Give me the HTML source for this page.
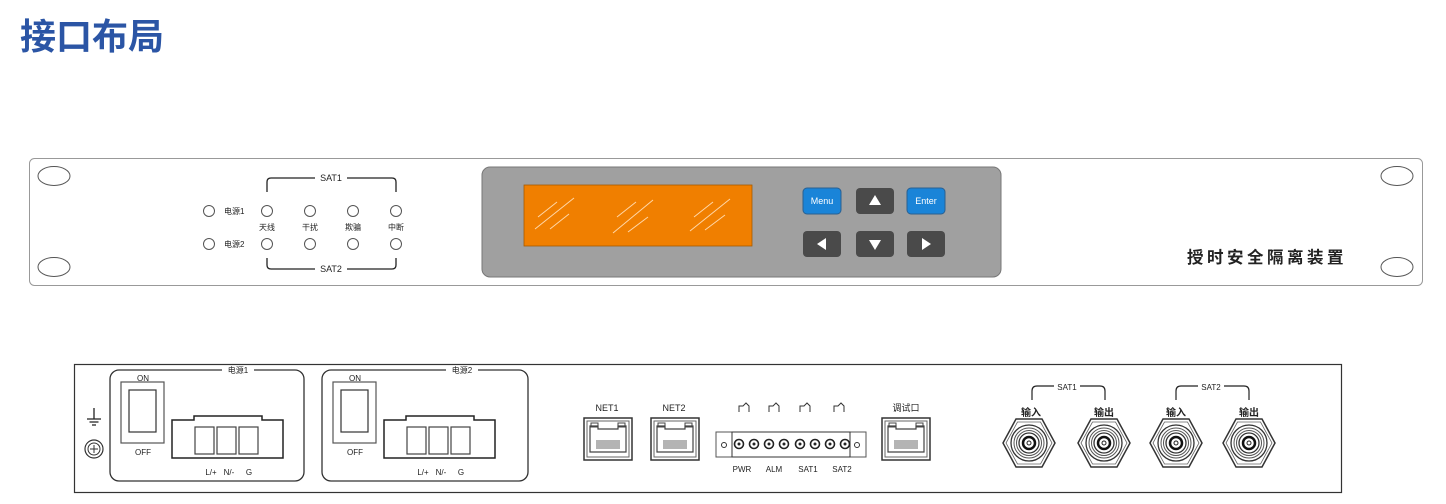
<!DOCTYPE html>
<html><head><meta charset="utf-8"><style>
html,body{margin:0;padding:0;background:#fff;}
svg{display:block;}
text{font-family:"Liberation Sans","Noto Sans CJK SC",sans-serif;fill:#222;}
</style></head><body>
<svg width="1446" height="504" viewBox="0 0 1446 504" xmlns="http://www.w3.org/2000/svg">
<defs>
<g id="led"><circle r="5.5" fill="#fff" stroke="#555" stroke-width="1"/></g>
<g id="rj">
  <rect x="0" y="0" width="48" height="42" fill="#fff" stroke="#333" stroke-width="1.5"/>
  <rect x="3" y="3" width="42" height="36" fill="none" stroke="#666" stroke-width="1"/>
  <path d="M6 8 H14 V11 H34 V8 H42 V34 H6 Z" fill="none" stroke="#444" stroke-width="1.2"/>
  <rect x="7" y="5" width="7" height="4" fill="none" stroke="#444"/>
  <rect x="34" y="5" width="7" height="4" fill="none" stroke="#444"/>
  <g stroke="#444" stroke-width="0.8"><path d="M13 22v9M15 22v9M17 22v9M19 22v9M21 22v9M23 22v9M25 22v9M27 22v9M29 22v9M31 22v9M33 22v9M35 22v9"/></g>
</g>
<g id="bnc">
  <polygon points="-26,0 -13,-24 13,-24 26,0 13,24 -13,24" fill="#fff" stroke="#333" stroke-width="1.5"/>
  <polygon points="-23,0 -11.5,-21 11.5,-21 23,0 11.5,21 -11.5,21" fill="none" stroke="#666" stroke-width="0.8"/>
  <circle r="18" fill="none" stroke="#333" stroke-width="1.3"/>
  <circle r="15" fill="none" stroke="#555" stroke-width="1"/>
  <circle r="12.5" fill="none" stroke="#555" stroke-width="1"/>
  <circle r="10" fill="none" stroke="#333" stroke-width="1.3"/>
  <circle r="6" fill="none" stroke="#111" stroke-width="2.5"/>
  <circle r="2" fill="#fff" stroke="#222" stroke-width="1"/>
</g>
<g id="pwrin">
  <rect x="11" y="12" width="43" height="61" fill="#fff" stroke="#555" stroke-width="1.2"/>
  <rect x="19" y="20" width="27" height="42" fill="#fff" stroke="#333" stroke-width="1.2"/>
  <text x="33" y="11" font-size="8" text-anchor="middle">ON</text>
  <text x="33" y="85" font-size="8" text-anchor="middle">OFF</text>
  <path d="M62 50 H84 V46 H152 V50 H173 V88 H62 Z" fill="#fff" stroke="#222" stroke-width="1.5"/>
  <rect x="85" y="57" width="19" height="27" fill="#fff" stroke="#444" stroke-width="1.2"/>
  <rect x="107" y="57" width="19" height="27" fill="#fff" stroke="#444" stroke-width="1.2"/>
  <rect x="129" y="57" width="19" height="27" fill="#fff" stroke="#444" stroke-width="1.2"/>
  <text x="101" y="105" font-size="8" text-anchor="middle">L/+</text>
  <text x="119" y="105" font-size="8" text-anchor="middle">N/-</text>
  <text x="139" y="105" font-size="8" text-anchor="middle">G</text>
</g>
</defs>

<text x="20" y="49" font-size="36" font-weight="bold" style="fill:#2b55a5">接口布局</text>

<!-- front panel -->
<rect x="29.5" y="158.5" width="1393" height="127" rx="5" fill="#fff" stroke="#999" stroke-width="1"/>
<ellipse cx="54" cy="176" rx="16" ry="9.5" fill="#fff" stroke="#555"/>
<ellipse cx="54" cy="267" rx="16" ry="9.5" fill="#fff" stroke="#555"/>
<ellipse cx="1397" cy="176" rx="16" ry="9.5" fill="#fff" stroke="#555"/>
<ellipse cx="1397" cy="267" rx="16" ry="9.5" fill="#fff" stroke="#555"/>

<use href="#led" x="209" y="211"/><use href="#led" x="209" y="244"/>
<text x="224" y="214" font-size="8">电源1</text>
<text x="224" y="247" font-size="8">电源2</text>
<use href="#led" x="267" y="211"/><use href="#led" x="310" y="211"/><use href="#led" x="353" y="211"/><use href="#led" x="396" y="211"/>
<use href="#led" x="267" y="244"/><use href="#led" x="310" y="244"/><use href="#led" x="353" y="244"/><use href="#led" x="396" y="244"/>
<g font-size="8" text-anchor="middle"><text x="267" y="230">天线</text><text x="310" y="230">干扰</text><text x="353" y="230">欺骗</text><text x="396" y="230">中断</text></g>
<path d="M267 192 V182 Q267 178 271 178 H315 M347 178 H392 Q396 178 396 182 V192" fill="none" stroke="#222" stroke-width="1.3"/>
<text x="331" y="181" font-size="9" text-anchor="middle">SAT1</text>
<path d="M267 258 V265 Q267 269 271 269 H315 M347 269 H392 Q396 269 396 265 V258" fill="none" stroke="#222" stroke-width="1.3"/>
<text x="331" y="272" font-size="9" text-anchor="middle">SAT2</text>

<rect x="482" y="167" width="519" height="110" rx="8" fill="#a0a0a0" stroke="#777" stroke-width="1"/>
<rect x="524" y="185" width="228" height="61" fill="#f07f00" stroke="#a55a00" stroke-width="0.8"/>
<g stroke="#ffd7a8" stroke-width="1">
<path d="M538 217 L557 202 M535 229 L574 198 M550 229 L569 214"/>
<path d="M617 217 L636 202 M613 233 L653 200 M628 232 L648 217"/>
<path d="M694 217 L713 202 M690 231 L730 199 M705 230 L725 215"/>
</g>
<rect x="803" y="188" width="38" height="26" rx="4" fill="#1a84d8" stroke="#2a5f90"/>
<text x="822" y="204" font-size="9" text-anchor="middle" style="fill:#fff">Menu</text>
<rect x="856" y="188" width="38" height="26" rx="4" fill="#4a4a4a"/>
<polygon points="875,195 881,205 869,205" fill="#fff"/>
<rect x="907" y="188" width="38" height="26" rx="4" fill="#1a84d8" stroke="#2a5f90"/>
<text x="926" y="204" font-size="9" text-anchor="middle" style="fill:#fff">Enter</text>
<rect x="803" y="231" width="38" height="26" rx="4" fill="#4a4a4a"/>
<polygon points="817,244 826,238 826,250" fill="#fff"/>
<rect x="856" y="231" width="38" height="26" rx="4" fill="#4a4a4a"/>
<polygon points="869,240 881,240 875,250" fill="#fff"/>
<rect x="907" y="231" width="38" height="26" rx="4" fill="#4a4a4a"/>
<polygon points="931,244 922,238 922,250" fill="#fff"/>
<text x="1187" y="263" font-size="16.5" font-weight="bold" letter-spacing="3.5">授时安全隔离装置</text>

<!-- rear panel -->
<rect x="74.5" y="364.5" width="1267" height="128" fill="#fff" stroke="#333" stroke-width="1.2"/>
<path d="M94 408 V419 M87 419 H101 M89.5 422 H98.5 M92 425 H96" stroke="#222" stroke-width="1.3" fill="none"/>
<circle cx="94" cy="449" r="9" fill="#fff" stroke="#333" stroke-width="1.2"/>
<circle cx="94" cy="449" r="6" fill="none" stroke="#333"/>
<path d="M90 449 H98 M94 445 V453" stroke="#333"/>

<rect x="110" y="370" width="194" height="111" rx="9" fill="#fff" stroke="#333" stroke-width="1.3"/>
<use href="#pwrin" x="110" y="370"/>
<rect x="222" y="366" width="32" height="8" fill="#fff"/>
<text x="238" y="373" font-size="8" text-anchor="middle">电源1</text>
<rect x="322" y="370" width="206" height="111" rx="9" fill="#fff" stroke="#333" stroke-width="1.3"/>
<use href="#pwrin" x="322" y="370"/>
<rect x="446" y="366" width="32" height="8" fill="#fff"/>
<text x="462" y="373" font-size="8" text-anchor="middle">电源2</text>

<text x="607" y="411" font-size="9" text-anchor="middle">NET1</text>
<use href="#rj" x="584" y="418"/>
<text x="674" y="411" font-size="9" text-anchor="middle">NET2</text>
<use href="#rj" x="651" y="418"/>
<text x="906" y="411" font-size="9" text-anchor="middle">调试口</text>
<use href="#rj" x="882" y="418"/>

<rect x="716" y="432" width="150" height="25" fill="#fff" stroke="#555"/>
<rect x="732" y="432" width="118" height="25" fill="#fff" stroke="#333"/>
<circle cx="724" cy="445" r="2.5" fill="none" stroke="#333"/>
<circle cx="857" cy="445" r="2.5" fill="none" stroke="#333"/>
<g fill="#fff" stroke="#222" stroke-width="1.6">
<circle cx="739" cy="444" r="4.5"/><circle cx="754" cy="444" r="4.5"/><circle cx="769" cy="444" r="4.5"/><circle cx="784" cy="444" r="4.5"/>
<circle cx="800" cy="444" r="4.5"/><circle cx="815" cy="444" r="4.5"/><circle cx="830" cy="444" r="4.5"/><circle cx="845" cy="444" r="4.5"/>
</g>
<g fill="#222"><circle cx="739" cy="444" r="1.5"/><circle cx="754" cy="444" r="1.5"/><circle cx="769" cy="444" r="1.5"/><circle cx="784" cy="444" r="1.5"/><circle cx="800" cy="444" r="1.5"/><circle cx="815" cy="444" r="1.5"/><circle cx="830" cy="444" r="1.5"/><circle cx="845" cy="444" r="1.5"/></g>
<g stroke="#333" fill="none" stroke-width="1">
<path d="M739 412 V406 H743 L746 403 L749 406 V412"/>
<path d="M769 412 V406 H773 L776 403 L779 406 V412"/>
<path d="M800 412 V406 H804 L807 403 L810 406 V412"/>
<path d="M834 412 V406 H838 L841 403 L844 406 V412"/>
</g>
<g font-size="8" text-anchor="middle"><text x="742" y="472">PWR</text><text x="774" y="472">ALM</text><text x="808" y="472">SAT1</text><text x="842" y="472">SAT2</text></g>

<path d="M1032 400 V391 Q1032 386 1037 386 H1054 M1080 386 H1100 Q1105 386 1105 391 V400" fill="none" stroke="#222" stroke-width="1.2"/>
<text x="1067" y="390" font-size="8" text-anchor="middle">SAT1</text>
<path d="M1176 400 V391 Q1176 386 1181 386 H1198 M1224 386 H1244 Q1249 386 1249 391 V400" fill="none" stroke="#222" stroke-width="1.2"/>
<text x="1211" y="390" font-size="8" text-anchor="middle">SAT2</text>
<g font-size="10" text-anchor="middle" font-weight="bold"><text x="1031" y="416">输入</text><text x="1104" y="416">输出</text><text x="1176" y="416">输入</text><text x="1249" y="416">输出</text></g>
<use href="#bnc" x="1029" y="443"/><use href="#bnc" x="1104" y="443"/><use href="#bnc" x="1176" y="443"/><use href="#bnc" x="1249" y="443"/>
</svg>
</body></html>
